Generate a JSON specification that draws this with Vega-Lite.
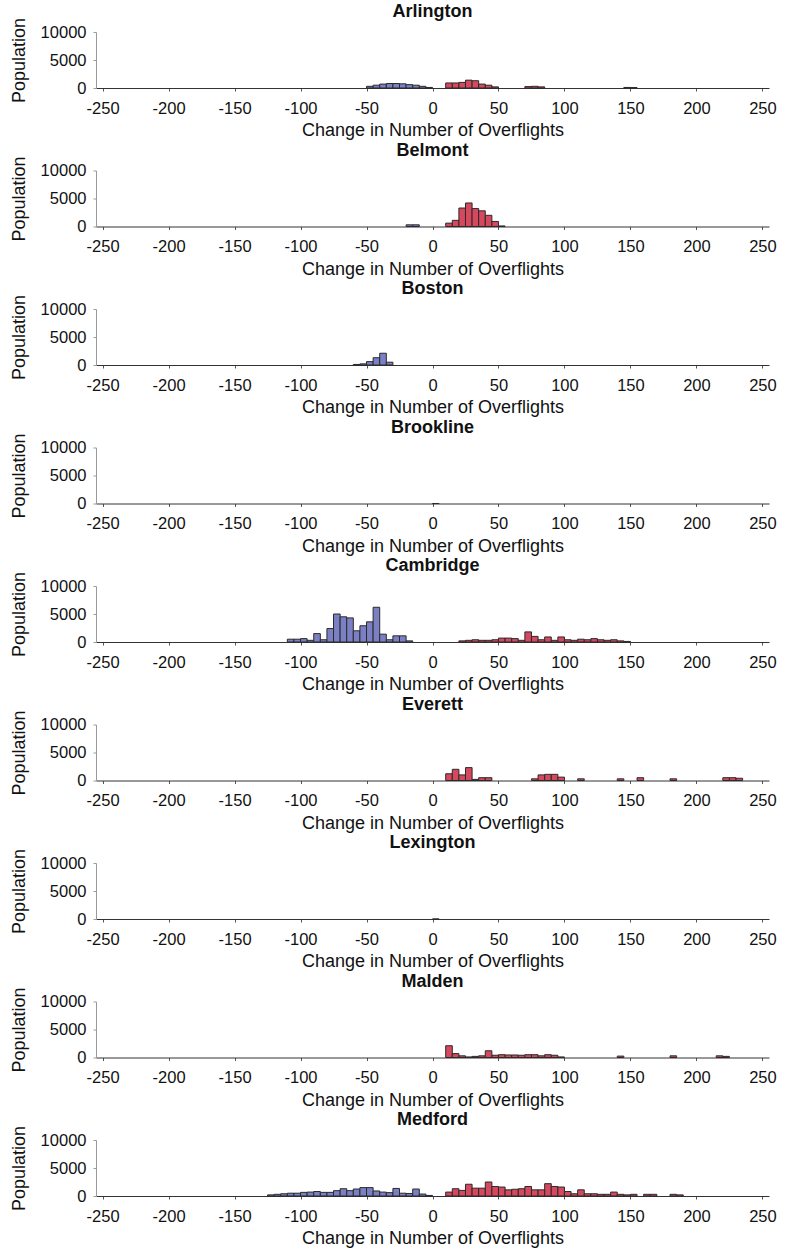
{
  "$schema": "https://vega.github.io/schema/vega-lite/v6.json",
  "background": "white",
  "padding": {"left": 10, "top": 3, "right": 4, "bottom": 2},
  "datasets": {
    "h": [
      {"town":"Arlington","lo":-50,"hi":-45,"pop":300},{"town":"Arlington","lo":-45,"hi":-40,"pop":500},{"town":"Arlington","lo":-40,"hi":-35,"pop":700},{"town":"Arlington","lo":-35,"hi":-30,"pop":800},{"town":"Arlington","lo":-30,"hi":-25,"pop":800},{"town":"Arlington","lo":-25,"hi":-20,"pop":750},{"town":"Arlington","lo":-20,"hi":-15,"pop":600},{"town":"Arlington","lo":-15,"hi":-10,"pop":500},{"town":"Arlington","lo":-10,"hi":-5,"pop":300},{"town":"Arlington","lo":-5,"hi":0,"pop":100},
      {"town":"Arlington","lo":10,"hi":15,"pop":900},{"town":"Arlington","lo":15,"hi":20,"pop":900},{"town":"Arlington","lo":20,"hi":25,"pop":1000},{"town":"Arlington","lo":25,"hi":30,"pop":1400},{"town":"Arlington","lo":30,"hi":35,"pop":1300},{"town":"Arlington","lo":35,"hi":40,"pop":700},{"town":"Arlington","lo":40,"hi":45,"pop":500},{"town":"Arlington","lo":45,"hi":50,"pop":200},{"town":"Arlington","lo":70,"hi":75,"pop":250},{"town":"Arlington","lo":75,"hi":80,"pop":300},{"town":"Arlington","lo":80,"hi":85,"pop":200},{"town":"Arlington","lo":145,"hi":150,"pop":100},{"town":"Arlington","lo":150,"hi":155,"pop":80},
      {"town":"Belmont","lo":-20,"hi":-15,"pop":300},{"town":"Belmont","lo":-15,"hi":-10,"pop":300},{"town":"Belmont","lo":10,"hi":15,"pop":600},{"town":"Belmont","lo":15,"hi":20,"pop":1100},{"town":"Belmont","lo":20,"hi":25,"pop":3300},{"town":"Belmont","lo":25,"hi":30,"pop":4200},{"town":"Belmont","lo":30,"hi":35,"pop":3200},{"town":"Belmont","lo":35,"hi":40,"pop":2800},{"town":"Belmont","lo":40,"hi":45,"pop":2000},{"town":"Belmont","lo":45,"hi":50,"pop":900},{"town":"Belmont","lo":50,"hi":55,"pop":100},
      {"town":"Boston","lo":-60,"hi":-55,"pop":100},{"town":"Boston","lo":-55,"hi":-50,"pop":200},{"town":"Boston","lo":-50,"hi":-45,"pop":600},{"town":"Boston","lo":-45,"hi":-40,"pop":1300},{"town":"Boston","lo":-40,"hi":-35,"pop":2100},{"town":"Boston","lo":-35,"hi":-30,"pop":500},
      {"town":"Brookline","lo":0,"hi":5,"pop":0},
      {"town":"Cambridge","lo":-110,"hi":-105,"pop":500},{"town":"Cambridge","lo":-105,"hi":-100,"pop":500},{"town":"Cambridge","lo":-100,"hi":-95,"pop":600},{"town":"Cambridge","lo":-95,"hi":-90,"pop":300},{"town":"Cambridge","lo":-90,"hi":-85,"pop":1500},{"town":"Cambridge","lo":-85,"hi":-80,"pop":400},{"town":"Cambridge","lo":-80,"hi":-75,"pop":2400},{"town":"Cambridge","lo":-75,"hi":-70,"pop":5000},{"town":"Cambridge","lo":-70,"hi":-65,"pop":4500},{"town":"Cambridge","lo":-65,"hi":-60,"pop":4300},{"town":"Cambridge","lo":-60,"hi":-55,"pop":2000},{"town":"Cambridge","lo":-55,"hi":-50,"pop":2900},{"town":"Cambridge","lo":-50,"hi":-45,"pop":3600},{"town":"Cambridge","lo":-45,"hi":-40,"pop":6200},{"town":"Cambridge","lo":-40,"hi":-35,"pop":1400},{"town":"Cambridge","lo":-35,"hi":-30,"pop":400},{"town":"Cambridge","lo":-30,"hi":-25,"pop":1100},{"town":"Cambridge","lo":-25,"hi":-20,"pop":1100},{"town":"Cambridge","lo":-20,"hi":-15,"pop":200},
      {"town":"Cambridge","lo":20,"hi":25,"pop":200},{"town":"Cambridge","lo":25,"hi":30,"pop":300},{"town":"Cambridge","lo":30,"hi":35,"pop":400},{"town":"Cambridge","lo":35,"hi":40,"pop":300},{"town":"Cambridge","lo":40,"hi":45,"pop":300},{"town":"Cambridge","lo":45,"hi":50,"pop":400},{"town":"Cambridge","lo":50,"hi":55,"pop":700},{"town":"Cambridge","lo":55,"hi":60,"pop":700},{"town":"Cambridge","lo":60,"hi":65,"pop":600},{"town":"Cambridge","lo":65,"hi":70,"pop":300},{"town":"Cambridge","lo":70,"hi":75,"pop":1800},{"town":"Cambridge","lo":75,"hi":80,"pop":1000},{"town":"Cambridge","lo":80,"hi":85,"pop":400},{"town":"Cambridge","lo":85,"hi":90,"pop":900},{"town":"Cambridge","lo":90,"hi":95,"pop":300},{"town":"Cambridge","lo":95,"hi":100,"pop":900},{"town":"Cambridge","lo":100,"hi":105,"pop":400},{"town":"Cambridge","lo":105,"hi":110,"pop":300},{"town":"Cambridge","lo":110,"hi":115,"pop":500},{"town":"Cambridge","lo":115,"hi":120,"pop":400},{"town":"Cambridge","lo":120,"hi":125,"pop":600},{"town":"Cambridge","lo":125,"hi":130,"pop":400},{"town":"Cambridge","lo":130,"hi":135,"pop":300},{"town":"Cambridge","lo":135,"hi":140,"pop":400},{"town":"Cambridge","lo":140,"hi":145,"pop":200},{"town":"Cambridge","lo":145,"hi":150,"pop":100},
      {"town":"Everett","lo":10,"hi":15,"pop":1200},{"town":"Everett","lo":15,"hi":20,"pop":2000},{"town":"Everett","lo":20,"hi":25,"pop":1000},{"town":"Everett","lo":25,"hi":30,"pop":2300},{"town":"Everett","lo":30,"hi":35,"pop":200},{"town":"Everett","lo":35,"hi":40,"pop":500},{"town":"Everett","lo":40,"hi":45,"pop":500},{"town":"Everett","lo":75,"hi":80,"pop":300},{"town":"Everett","lo":80,"hi":85,"pop":1000},{"town":"Everett","lo":85,"hi":90,"pop":1100},{"town":"Everett","lo":90,"hi":95,"pop":1100},{"town":"Everett","lo":95,"hi":100,"pop":600},{"town":"Everett","lo":110,"hi":115,"pop":300},{"town":"Everett","lo":140,"hi":145,"pop":300},{"town":"Everett","lo":155,"hi":160,"pop":500},{"town":"Everett","lo":180,"hi":185,"pop":300},{"town":"Everett","lo":220,"hi":225,"pop":500},{"town":"Everett","lo":225,"hi":230,"pop":500},{"town":"Everett","lo":230,"hi":235,"pop":400},
      {"town":"Lexington","lo":0,"hi":5,"pop":0},
      {"town":"Malden","lo":10,"hi":15,"pop":2100},{"town":"Malden","lo":15,"hi":20,"pop":700},{"town":"Malden","lo":20,"hi":25,"pop":300},{"town":"Malden","lo":25,"hi":30,"pop":100},{"town":"Malden","lo":30,"hi":35,"pop":200},{"town":"Malden","lo":35,"hi":40,"pop":300},{"town":"Malden","lo":40,"hi":45,"pop":1200},{"town":"Malden","lo":45,"hi":50,"pop":400},{"town":"Malden","lo":50,"hi":55,"pop":500},{"town":"Malden","lo":55,"hi":60,"pop":450},{"town":"Malden","lo":60,"hi":65,"pop":450},{"town":"Malden","lo":65,"hi":70,"pop":400},{"town":"Malden","lo":70,"hi":75,"pop":500},{"town":"Malden","lo":75,"hi":80,"pop":500},{"town":"Malden","lo":80,"hi":85,"pop":300},{"town":"Malden","lo":85,"hi":90,"pop":500},{"town":"Malden","lo":90,"hi":95,"pop":400},{"town":"Malden","lo":95,"hi":100,"pop":100},{"town":"Malden","lo":140,"hi":145,"pop":250},{"town":"Malden","lo":180,"hi":185,"pop":300},{"town":"Malden","lo":215,"hi":220,"pop":300},{"town":"Malden","lo":220,"hi":225,"pop":200},
      {"town":"Medford","lo":-125,"hi":-120,"pop":200},{"town":"Medford","lo":-120,"hi":-115,"pop":300},{"town":"Medford","lo":-115,"hi":-110,"pop":400},{"town":"Medford","lo":-110,"hi":-105,"pop":500},{"town":"Medford","lo":-105,"hi":-100,"pop":500},{"town":"Medford","lo":-100,"hi":-95,"pop":650},{"town":"Medford","lo":-95,"hi":-90,"pop":700},{"town":"Medford","lo":-90,"hi":-85,"pop":800},{"town":"Medford","lo":-85,"hi":-80,"pop":650},{"town":"Medford","lo":-80,"hi":-75,"pop":650},{"town":"Medford","lo":-75,"hi":-70,"pop":950},{"town":"Medford","lo":-70,"hi":-65,"pop":1300},{"town":"Medford","lo":-65,"hi":-60,"pop":950},{"town":"Medford","lo":-60,"hi":-55,"pop":1250},{"town":"Medford","lo":-55,"hi":-50,"pop":1500},{"town":"Medford","lo":-50,"hi":-45,"pop":1500},{"town":"Medford","lo":-45,"hi":-40,"pop":900},{"town":"Medford","lo":-40,"hi":-35,"pop":700},{"town":"Medford","lo":-35,"hi":-30,"pop":600},{"town":"Medford","lo":-30,"hi":-25,"pop":1350},{"town":"Medford","lo":-25,"hi":-20,"pop":500},{"town":"Medford","lo":-20,"hi":-15,"pop":450},{"town":"Medford","lo":-15,"hi":-10,"pop":1250},{"town":"Medford","lo":-10,"hi":-5,"pop":350},{"town":"Medford","lo":-5,"hi":0,"pop":100},
      {"town":"Medford","lo":10,"hi":15,"pop":700},{"town":"Medford","lo":15,"hi":20,"pop":1300},{"town":"Medford","lo":20,"hi":25,"pop":1000},{"town":"Medford","lo":25,"hi":30,"pop":2100},{"town":"Medford","lo":30,"hi":35,"pop":1400},{"town":"Medford","lo":35,"hi":40,"pop":1400},{"town":"Medford","lo":40,"hi":45,"pop":2500},{"town":"Medford","lo":45,"hi":50,"pop":1700},{"town":"Medford","lo":50,"hi":55,"pop":1600},{"town":"Medford","lo":55,"hi":60,"pop":1100},{"town":"Medford","lo":60,"hi":65,"pop":1200},{"town":"Medford","lo":65,"hi":70,"pop":1300},{"town":"Medford","lo":70,"hi":75,"pop":1700},{"town":"Medford","lo":75,"hi":80,"pop":1100},{"town":"Medford","lo":80,"hi":85,"pop":1100},{"town":"Medford","lo":85,"hi":90,"pop":2200},{"town":"Medford","lo":90,"hi":95,"pop":1700},{"town":"Medford","lo":95,"hi":100,"pop":1600},{"town":"Medford","lo":100,"hi":105,"pop":800},{"town":"Medford","lo":105,"hi":110,"pop":400},{"town":"Medford","lo":110,"hi":115,"pop":1100},{"town":"Medford","lo":115,"hi":120,"pop":400},{"town":"Medford","lo":120,"hi":125,"pop":400},{"town":"Medford","lo":125,"hi":130,"pop":300},{"town":"Medford","lo":130,"hi":135,"pop":300},{"town":"Medford","lo":135,"hi":140,"pop":700},{"town":"Medford","lo":140,"hi":145,"pop":300},{"town":"Medford","lo":145,"hi":150,"pop":200},{"town":"Medford","lo":150,"hi":155,"pop":300},{"town":"Medford","lo":160,"hi":165,"pop":300},{"town":"Medford","lo":165,"hi":170,"pop":300},{"town":"Medford","lo":180,"hi":185,"pop":300},{"town":"Medford","lo":185,"hi":190,"pop":200}
    ]
  },
  "data": {"name": "h"},
  "columns": 1,
  "facet": {
    "field": "town",
    "type": "nominal",
    "sort": ["Arlington","Belmont","Boston","Brookline","Cambridge","Everett","Lexington","Malden","Medford"],
    "header": {"title": null, "labelFont": "Liberation Sans", "labelFontSize": 18, "labelFontWeight": "bold", "labelColor": "#111", "labelPadding": -4}
  },
  "spacing": 1.5,
  "resolve": {"axis": {"x": "independent", "y": "independent"}},
  "spec": {
    "width": 673,
    "height": 56,
    "mark": {"type": "rect", "stroke": "#2a2a2a", "strokeWidth": 1},
    "encoding": {
      "x": {"field": "lo", "type": "quantitative", "scale": {"domain": [-255, 255], "nice": false, "zero": false},
        "axis": {"values": [-250,-200,-150,-100,-50,0,50,100,150,200,250], "labelExpr": "replace(datum.label, '\u2212', '-')", "title": "Change in Number of Overflights", "titleFontSize": 18, "titleFontWeight": "normal", "titlePadding": 5, "labelFontSize": 16.5, "labelPadding": 9, "tickSize": 3, "grid": false, "domainColor": "#333", "tickColor": "#555", "labelColor": "#111", "titleColor": "#111"}},
      "x2": {"field": "hi"},
      "y": {"field": "pop", "type": "quantitative", "scale": {"domain": [0, 10000], "nice": false},
        "axis": {"values": [0, 5000, 10000], "format": "d", "title": "Population", "titleFontSize": 18, "titleFontWeight": "normal", "titlePadding": 12, "labelFontSize": 16.5, "labelPadding": 7, "tickSize": 3, "grid": false, "domainColor": "#999", "tickColor": "#999", "labelColor": "#111", "titleColor": "#111"}},
      "y2": {"datum": 0},
      "fill": {"condition": {"test": "datum.lo < 0", "value": "#7b80c4"}, "value": "#d6485e"}
    }
  },
  "config": {"view": {"stroke": null}, "font": "Liberation Sans"}
}
